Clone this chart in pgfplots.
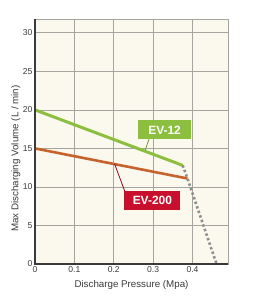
\documentclass[border=0pt]{standalone}
\usepackage{fontspec}
\setmainfont{Liberation Sans}
\usepackage{pgfplots}
\pgfplotsset{compat=1.18}
\definecolor{bgcream}{HTML}{FBF9EE}
\definecolor{gridgrey}{HTML}{A5A5A0}
\definecolor{evgreen}{HTML}{8CBF3F}
\definecolor{evbrown}{HTML}{C6622E}
\definecolor{evred}{HTML}{C8102E}
\definecolor{dotgrey}{HTML}{8E8E8E}
\definecolor{txtgrey}{HTML}{3A3A3A}
\begin{document}
\begin{tikzpicture}
\useasboundingbox (-35bp,-36bp) rectangle (219bp,264bp);
\begin{axis}[
  scale only axis,
  width=193bp, height=245bp,
  xmin=0, xmax=0.49, ymin=0, ymax=31.8,
  xtick={0,0.1,0.2,0.3,0.4},
  ytick={0,5,10,15,20,25,30},
  xticklabels={0,0.1,0.2,0.3,0.4},
  grid=major,
  major grid style={gridgrey, line width=0.8bp},
  axis background/.style={fill=bgcream},
  axis line style={gridgrey, line width=0.8bp},
  tick style={draw=none},
  ticklabel style={font=\fontsize{8.6}{9}\selectfont, text=txtgrey},
  /pgf/number format/assume math mode=true,
  xticklabel style={yshift=1bp},
  yticklabel style={xshift=1bp},
  xlabel={Discharge Pressure (Mpa)},
  ylabel={Max Discharging Volume (L / min)},
  label style={font=\fontsize{9.8}{11}\selectfont, text=txtgrey},
  xlabel style={at={(axis description cs:0.5,0)}, anchor=north, yshift=-13bp},
  ylabel style={at={(axis description cs:0,0.43)}, anchor=south, xshift=0bp, yshift=11bp},
  clip=false,
]
\addplot[evgreen, line width=3bp] coordinates {(0,20) (0.375,12.8)};
\addplot[evbrown, line width=2.6bp] coordinates {(0,15) (0.387,11.1)};
\addplot[dotgrey, line width=2.6bp, dash pattern=on 2.4bp off 2.4bp] coordinates {(0.375,12.8) (0.387,11.1) (0.461,0)};
% axis lines (left and bottom dark)
\draw[txtgrey, line width=2bp] (rel axis cs:0,1) -- (rel axis cs:0,0) -- (rel axis cs:1,0);
% callouts
\draw[evgreen!80!black, line width=0.8bp] (axis cs:0.29,16.3) -- (axis cs:0.28,14.8);
\node[fill=evgreen, text=white, font=\fontsize{12}{13}\selectfont\bfseries, minimum width=53bp, minimum height=19bp, inner sep=0pt] at (axis cs:0.329,17.4) {EV-12};
\draw[evred!70!black, line width=0.8bp] (axis cs:0.202,13.0) -- (axis cs:0.229,9.3);
\node[fill=evred, text=white, font=\fontsize{12}{13}\selectfont\bfseries, minimum width=56bp, minimum height=19bp, inner sep=0pt] at (axis cs:0.298,8.2) {EV-200};
\end{axis}
\end{tikzpicture}
\end{document}
